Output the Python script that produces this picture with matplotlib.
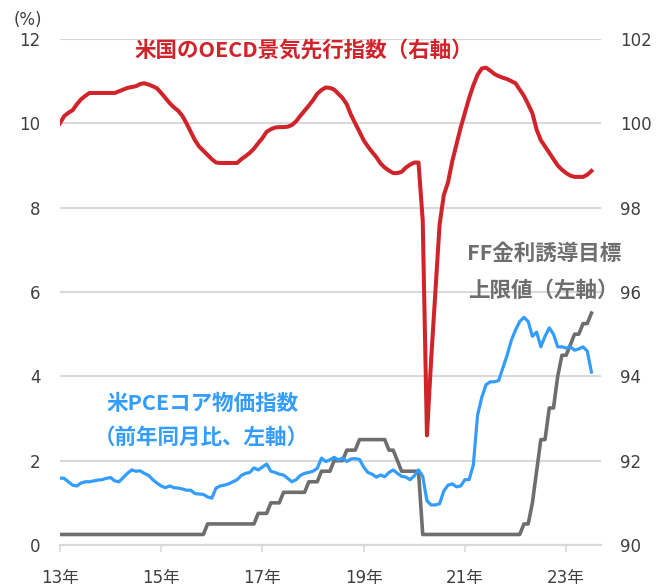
import matplotlib
matplotlib.use('Agg')
import matplotlib.pyplot as plt

plt.rcParams['font.family'] = ['DejaVu Sans', 'Noto Sans CJK JP']

# monthly data, Jan 2013 .. Jul 2023
oecd_cli = [
    100.0, 100.17, 100.25, 100.31, 100.45, 100.57, 100.65, 100.72, 100.72, 100.72, 100.72, 100.72,  # 2013
    100.72, 100.72, 100.76, 100.8, 100.84, 100.86, 100.88, 100.93, 100.95, 100.92, 100.88, 100.83,  # 2014
    100.72, 100.6, 100.48, 100.38, 100.3, 100.18, 100.0, 99.8, 99.6, 99.45, 99.35, 99.25,  # 2015
    99.15, 99.07, 99.06, 99.06, 99.06, 99.06, 99.06, 99.15, 99.22, 99.3, 99.4, 99.53,  # 2016
    99.65, 99.8, 99.86, 99.9, 99.91, 99.91, 99.92, 99.96, 100.05, 100.18, 100.3, 100.42,  # 2017
    100.55, 100.7, 100.79, 100.85, 100.84, 100.8, 100.7, 100.6, 100.45, 100.2, 100.0, 99.8,  # 2018
    99.6, 99.45, 99.32, 99.2, 99.05, 98.95, 98.88, 98.82, 98.82, 98.85, 98.95, 99.02,  # 2019
    99.07, 99.07, 97.7, 92.6, 94.4, 96.0, 97.6, 98.3, 98.6, 99.1, 99.5, 99.9,  # 2020
    100.25, 100.6, 100.9, 101.15, 101.3, 101.32, 101.25, 101.17, 101.12, 101.08, 101.05, 101.0,  # 2021
    100.95, 100.8, 100.65, 100.45, 100.24, 99.85, 99.6, 99.45, 99.3, 99.15, 99.0, 98.9,  # 2022
    98.82, 98.76, 98.73, 98.73, 98.73, 98.78, 98.87,  # 2023
]

pce_core = [
    1.59, 1.58, 1.5, 1.42, 1.4, 1.47, 1.5, 1.5, 1.52, 1.54, 1.55, 1.58,
    1.6, 1.52, 1.5, 1.6, 1.7, 1.78, 1.75, 1.76, 1.7, 1.65, 1.55, 1.47,
    1.4, 1.36, 1.4, 1.36, 1.35, 1.33, 1.3, 1.3, 1.22, 1.21, 1.2, 1.14,
    1.11, 1.35, 1.4, 1.42, 1.45, 1.5, 1.55, 1.65, 1.7, 1.72, 1.83, 1.78,
    1.85, 1.92, 1.75, 1.72, 1.68, 1.66, 1.58, 1.5, 1.55, 1.65, 1.7, 1.72,
    1.75, 1.82, 2.06, 1.98, 2.02, 2.08, 2.02, 2.06, 1.98, 2.04, 2.05, 2.03,
    1.85, 1.72, 1.68, 1.61, 1.66, 1.62, 1.72, 1.78, 1.7, 1.63, 1.61, 1.55,
    1.64, 1.78, 1.63, 1.05, 0.95, 0.95, 0.98, 1.28, 1.42, 1.45, 1.38, 1.4,
    1.55, 1.55, 1.9, 3.08, 3.5, 3.8, 3.87, 3.87, 3.9, 4.2, 4.5, 4.85,
    5.1, 5.3, 5.4, 5.3, 4.95, 5.05, 4.7, 4.95, 5.15, 5.0, 4.7, 4.7,
    4.67, 4.7, 4.62, 4.65, 4.7, 4.6, 4.1,
]

ff_upper = [
    0.25] * 12 + [0.25] * 12 + [0.25] * 11 + [0.5] + [
    0.5] * 11 + [0.75] + [
    0.75, 0.75, 1.0, 1.0, 1.0, 1.25, 1.25, 1.25, 1.25, 1.25, 1.25, 1.5,
    1.5, 1.5, 1.75, 1.75, 1.75, 2.0, 2.0, 2.0, 2.25, 2.25, 2.25, 2.5,
    2.5, 2.5, 2.5, 2.5, 2.5, 2.5, 2.25, 2.25, 2.0, 1.75, 1.75, 1.75,
    1.75, 1.75] + [0.25] * 10 + [0.25] * 12 + [
    0.25, 0.25, 0.5, 0.5, 1.0, 1.75, 2.5, 2.5, 3.25, 3.25, 4.0, 4.5,
    4.5, 4.75, 5.0, 5.0, 5.25, 5.25, 5.5,
]

year_labels = ['13年', '15年', '17年', '19年', '21年', '23年']
months = list(range(len(oecd_cli)))

red = '#d0232a'
blue = '#339cff'
gray = '#6e6e6e'
grid_c = '#d9d9d9'
txt_c = '#404040'

fig = plt.figure(figsize=(6.66, 5.88), dpi=100)
ax = fig.add_axes([0.09, 0.0731, 0.812, 0.8606])
ax2 = ax.twinx()

ax.plot(months, ff_upper, color=gray, lw=2.6, solid_joinstyle='round', zorder=3)
ax.plot(months, pce_core, color=blue, lw=2.3, solid_joinstyle='round', zorder=4)
ax2.plot(months, oecd_cli, color=red, lw=2.9, solid_joinstyle='round')

ax.set_xlim(0, 128.2)
ax.set_ylim(0, 12)
ax2.set_ylim(90, 102)
ax.set_yticks(range(0, 13, 2))
ax2.set_yticks(range(90, 103, 2))
ax.set_xticks(range(0, 121, 24))
ax.set_xticklabels(year_labels)

ax.grid(axis='y', color=grid_c, lw=1.5)
ax.set_axisbelow(True)
for a in (ax, ax2):
    for s in ('top', 'left', 'right'):
        a.spines[s].set_visible(False)
    a.spines['bottom'].set_color(grid_c)
    a.spines['bottom'].set_linewidth(1.5)
ax.tick_params(axis='y', length=0, pad=14, labelsize=12, labelcolor=txt_c)
ax2.tick_params(axis='y', length=0, pad=14, labelsize=12, labelcolor=txt_c)
ax.tick_params(axis='x', length=5, width=1.2, color=grid_c, pad=12, labelsize=12, labelcolor=txt_c)

fig.text(28 / 666, 1 - 20 / 588, '(%)', ha='center', va='center', fontsize=12, color=txt_c)

jp = ['Noto Sans CJK JP', 'DejaVu Sans']
fs = 15.5
fig.text(134 / 666, 1 - 50 / 588, '米国のOECD景気先行指数（右軸）', ha='left', va='center',
         fontsize=fs, fontweight='bold', color=red, family=jp)
fig.text(106 / 666, 1 - 403 / 588, '米PCEコア物価指数', ha='left', va='center',
         fontsize=fs, fontweight='bold', color=blue, family=jp)
fig.text(94 / 666, 1 - 437 / 588, '（前年同月比、左軸）', ha='left', va='center',
         fontsize=fs, fontweight='bold', color=blue, family=jp)
fig.text(467 / 666, 1 - 253 / 588, 'FF金利誘導目標', ha='left', va='center',
         fontsize=fs, fontweight='bold', color=gray, family=jp)
fig.text(468 / 666, 1 - 290 / 588, '上限値（左軸）', ha='left', va='center',
         fontsize=fs, fontweight='bold', color=gray, family=jp)

plt.savefig('out.png', dpi=100)
